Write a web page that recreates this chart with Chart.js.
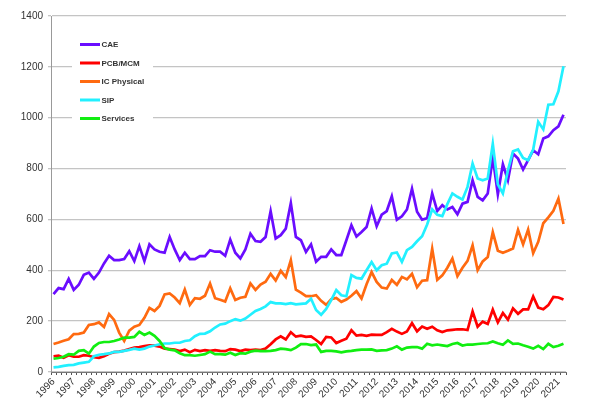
<!DOCTYPE html>
<html>
<head>
<meta charset="utf-8">
<title>EDA revenue by category</title>
<script src="https://cdn.jsdelivr.net/npm/chart.js@4.4.0/dist/chart.umd.min.js"></script>
<style>
  html, body { margin: 0; padding: 0; background: #fff; }
  #wrap { position: relative; width: 600px; height: 415px; }
</style>
</head>
<body>
<div id="wrap"><canvas id="revenueChart"></canvas></div>
<script>
// year labels, one per 4 quarters starting 1996 Q1
var yearLabels = ['1996', '1997', '1998', '1999', '2000', '2001', '2002', '2003', '2004',
    '2005', '2006', '2007', '2008', '2009', '2010', '2011', '2012', '2013', '2014', '2015',
    '2016', '2017', '2018', '2019', '2020', '2021'];

var seriesNames = ['CAE', 'PCB/MCM', 'IC Physical', 'SIP', 'Services'];

var caeValues = [306, 330, 326, 366, 323, 343, 382, 391, 366, 391, 427, 457, 440, 440, 444, 475,
    436, 495, 436, 502, 482, 473, 469, 531, 482, 440, 469, 444, 444, 456, 456, 479,
    473, 473, 457, 521, 469, 447, 482, 544, 515, 512, 531, 632, 525, 538, 564, 664,
    531, 518, 472, 502, 434, 453, 453, 482, 460, 460, 518, 577, 533, 551, 570, 643,
    573, 619, 633, 691, 599, 612, 639, 721, 630, 599, 605, 702, 633, 656, 639, 649,
    620, 662, 669, 754, 689, 675, 702, 843, 699, 817, 754, 859, 839, 796, 833, 872,
    856, 918, 927, 951, 966, 1012];

var pcbValues = [62, 64, 56, 66, 60, 60, 66, 64, 58, 56, 62, 72, 78, 80, 84, 90,
    96, 98, 102, 105, 104, 100, 92, 90, 88, 82, 88, 78, 87, 82, 86, 83,
    86, 83, 82, 90, 88, 82, 88, 86, 88, 86, 92, 109, 128, 140, 128, 156,
    139, 143, 138, 140, 126, 110, 138, 136, 114, 123, 131, 164, 143, 146, 142, 147,
    146, 146, 157, 170, 159, 150, 159, 192, 160, 179, 170, 178, 164, 157, 164, 166,
    168, 168, 165, 238, 178, 198, 189, 245, 195, 232, 206, 250, 229, 246, 246, 297,
    253, 247, 263, 295, 293, 285];

var icValues = [110, 116, 123, 129, 149, 150, 155, 185, 188, 195, 177, 228, 205, 155, 122, 163,
    178, 185, 213, 252, 240, 260, 305, 309, 293, 271, 324, 264, 290, 288, 300, 348,
    290, 284, 277, 329, 283, 292, 296, 348, 323, 344, 355, 386, 360, 398, 373, 440,
    324, 312, 298, 298, 302, 280, 264, 286, 291, 276, 285, 300, 318, 289, 345, 393,
    354, 332, 328, 362, 343, 374, 364, 386, 333, 359, 361, 485, 362, 380, 410, 446,
    377, 410, 437, 498, 400, 435, 452, 550, 477, 469, 477, 486, 559, 502, 560, 467,
    512, 585, 608, 634, 682, 582];

var sipValues = [18, 20, 24, 27, 28, 34, 37, 40, 62, 68, 70, 73, 79, 79, 83, 87,
    92, 88, 92, 100, 104, 109, 112, 112, 115, 115, 122, 125, 141, 150, 151, 160,
    175, 187, 190, 200, 208, 202, 210, 225, 240, 248, 258, 275, 270, 270, 267, 271,
    266, 268, 270, 288, 244, 225, 248, 283, 322, 302, 298, 381, 370, 367, 400, 432,
    400, 420, 426, 466, 470, 433, 479, 492, 514, 534, 580, 640, 618, 613, 660, 702,
    689, 678, 728, 820, 761, 754, 761, 897, 738, 702, 793, 868, 875, 842, 833, 875,
    984, 954, 1051, 1053, 1104, 1202];

var servicesValues = [52, 55, 60, 70, 68, 83, 86, 72, 100, 114, 118, 118, 122, 128, 135, 135,
    138, 158, 146, 155, 142, 122, 94, 88, 85, 74, 66, 66, 64, 67, 70, 80,
    70, 70, 68, 76, 67, 74, 72, 80, 84, 82, 82, 83, 86, 92, 90, 86,
    96, 110, 110, 106, 108, 79, 83, 83, 81, 77, 81, 83, 86, 88, 88, 89,
    83, 85, 86, 92, 101, 88, 96, 98, 98, 92, 111, 105, 108, 105, 102, 110,
    114, 104, 108, 108, 110, 112, 113, 120, 113, 107, 124, 111, 112, 105, 99, 92,
    103, 90, 111, 98, 103, 111];

var seriesColors = ['#6a0dff', '#ff0000', '#ff6a10', '#22f0ff', '#11ee11'];

// one label per quarter, year text on Q1 only
var quarterLabels = [];
yearLabels.forEach(function (year) {
    quarterLabels.push(year, '', '', '');
});
quarterLabels = quarterLabels.slice(0, caeValues.length);

var allValues = [caeValues, pcbValues, icValues, sipValues, servicesValues];
var datasets = [];
allValues.forEach(function (values, i) {
    datasets.push({
        label: seriesNames[i],
        data: values,
        borderColor: seriesColors[i],
        backgroundColor: seriesColors[i],
        borderWidth: 2.7,
        pointRadius: 0,
        tension: 0,
        fill: false,
        // later series painted over earlier ones
        order: allValues.length - i
    });
});

// legend sits inside the plot, on a white box over the gridlines
var insideLegend = {
    id: 'insideLegend',
    beforeDatasetsDraw: function (chart) {
        var ctx = chart.ctx;
        ctx.save();
        ctx.fillStyle = '#ffffff';
        ctx.fillRect(72, 33, 81, 96);
        chart.data.datasets.forEach(function (ds, i) {
            var y = 44.5 + i * 18.5;
            ctx.strokeStyle = ds.borderColor;
            ctx.lineWidth = 3;
            ctx.beginPath();
            ctx.moveTo(80, y);
            ctx.lineTo(100, y);
            ctx.stroke();
            ctx.fillStyle = '#333333';
            ctx.font = 'bold 8px "Liberation Sans", Arial, sans-serif';
            ctx.textBaseline = 'middle';
            ctx.textAlign = 'left';
            ctx.fillText(ds.label, 101.5, y + 0.5);
        });
        ctx.restore();
    }
};

var chartElement = document.getElementById('revenueChart').getContext('2d');
var chartObject = new Chart(chartElement, {
    type: 'line',
    data: {
        labels: quarterLabels,
        datasets: datasets
    },
    options: {
        responsive: true,
        maintainAspectRatio: false,
        animation: false,
        layout: {
            padding: { top: 16, right: 34, bottom: 0, left: 0 }
        },
        plugins: {
            legend: { display: false },
            tooltip: { enabled: false }
        },
        scales: {
            x: {
                type: 'category',
                offset: true,
                afterFit: function (scale) { scale.height = 43; },
                grid: {
                    offset: true,
                    drawOnChartArea: false,
                    drawTicks: true,
                    tickLength: 3,
                    color: '#555555'
                },
                border: { color: '#777777', width: 1 },
                ticks: {
                    autoSkip: false,
                    minRotation: 45,
                    maxRotation: 45,
                    padding: 1,
                    color: '#333333',
                    font: { family: '"Liberation Sans", Arial, sans-serif', size: 10 }
                }
            },
            y: {
                min: 0,
                max: 1400,
                afterFit: function (scale) { scale.width = 51; },
                grid: {
                    color: '#c4c4c4',
                    lineWidth: 1.3,
                    tickLength: 3
                },
                border: { color: '#999999', width: 1 },
                ticks: {
                    stepSize: 200,
                    padding: 5,
                    color: '#333333',
                    font: { family: '"Liberation Sans", Arial, sans-serif', size: 10 },
                    callback: function (value) { return String(value); }
                }
            }
        }
    },
    plugins: [insideLegend]
});
chartObject.update();
</script>
</body>
</html>
